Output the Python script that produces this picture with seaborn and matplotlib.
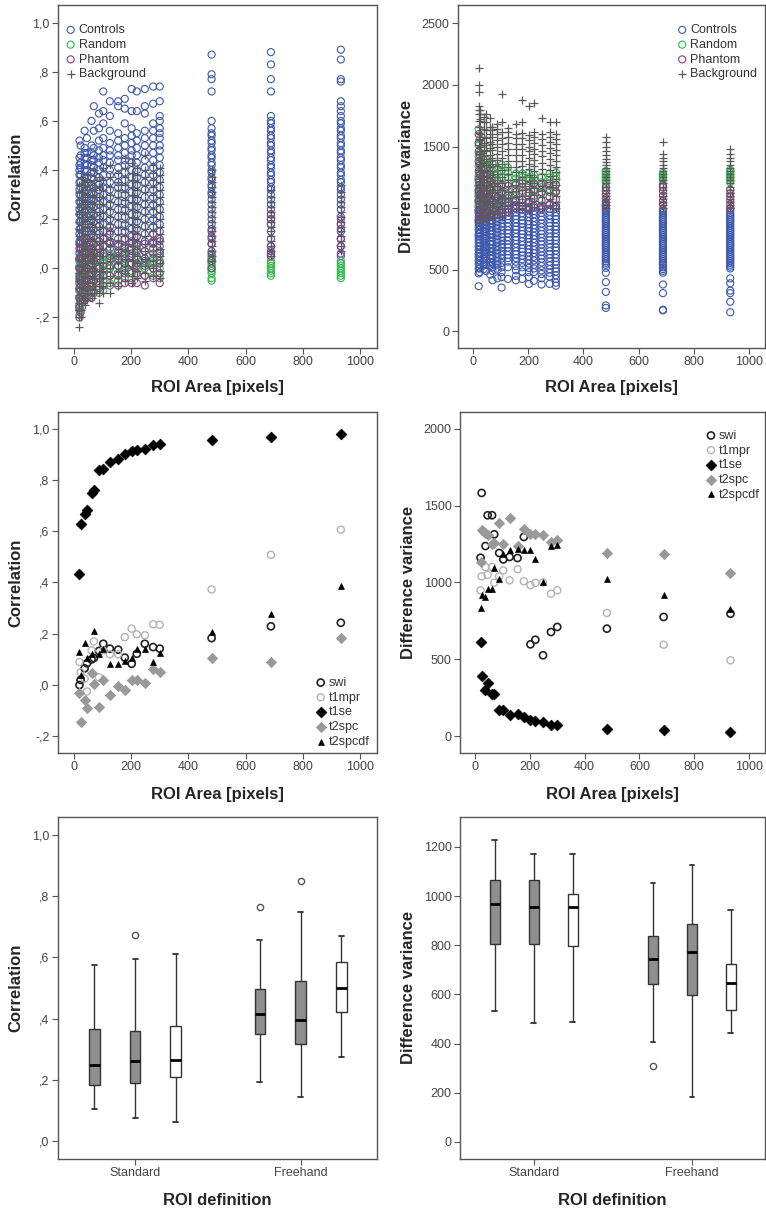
import numpy as np
import pandas as pd
import matplotlib
matplotlib.use('Agg')
import matplotlib.pyplot as plt
from matplotlib.ticker import FuncFormatter
import seaborn as sns

sns.set_theme(style='ticks')
plt.rcParams['font.family'] = ['Liberation Sans', 'DejaVu Sans']

# ROI areas used for every ROI (pixels)
roi_area = [20, 24, 38, 46, 62, 70, 88, 103, 126, 155, 178, 202, 220, 248, 277, 300, 481, 688, 932]

# ---- top left: correlation per ROI, one list per ROI area ----
ctrl_corr = [
    [-0.17, -0.15, -0.12, -0.09, -0.06, -0.03, 0.0, 0.03, 0.06, 0.08, 0.11, 0.14, 0.16, 0.19, 0.22, 0.24, 0.27, 0.3, 0.32, 0.35, 0.38, 0.4, 0.42, 0.45, 0.52],
    [-0.14, -0.11, -0.07, -0.04, -0.01, 0.02, 0.05, 0.08, 0.11, 0.13, 0.16, 0.19, 0.22, 0.25, 0.27, 0.3, 0.33, 0.35, 0.38, 0.41, 0.43, 0.46, 0.5],
    [-0.1, -0.07, -0.03, 0.0, 0.03, 0.06, 0.09, 0.12, 0.15, 0.18, 0.2, 0.23, 0.26, 0.29, 0.31, 0.34, 0.37, 0.4, 0.42, 0.45, 0.47, 0.49, 0.56],
    [-0.08, -0.04, -0.01, 0.03, 0.06, 0.09, 0.12, 0.15, 0.18, 0.21, 0.24, 0.26, 0.29, 0.32, 0.35, 0.37, 0.4, 0.42, 0.45, 0.47, 0.53],
    [-0.06, -0.02, 0.01, 0.05, 0.08, 0.11, 0.14, 0.17, 0.2, 0.23, 0.26, 0.28, 0.31, 0.34, 0.37, 0.39, 0.42, 0.44, 0.47, 0.5, 0.6],
    [-0.05, -0.01, 0.03, 0.07, 0.1, 0.13, 0.16, 0.19, 0.22, 0.25, 0.28, 0.3, 0.33, 0.36, 0.39, 0.41, 0.44, 0.46, 0.49, 0.56, 0.66],
    [-0.04, 0.0, 0.04, 0.08, 0.11, 0.14, 0.17, 0.2, 0.23, 0.26, 0.29, 0.32, 0.34, 0.37, 0.4, 0.43, 0.45, 0.48, 0.52, 0.57, 0.63],
    [-0.03, 0.01, 0.05, 0.09, 0.12, 0.15, 0.18, 0.21, 0.24, 0.27, 0.3, 0.33, 0.35, 0.38, 0.41, 0.44, 0.46, 0.49, 0.53, 0.59, 0.64, 0.72],
    [0.0, 0.04, 0.08, 0.11, 0.14, 0.17, 0.2, 0.23, 0.26, 0.29, 0.32, 0.35, 0.38, 0.4, 0.43, 0.46, 0.48, 0.51, 0.56, 0.62, 0.68],
    [0.01, 0.05, 0.09, 0.12, 0.15, 0.18, 0.21, 0.24, 0.27, 0.3, 0.33, 0.35, 0.38, 0.41, 0.44, 0.46, 0.49, 0.52, 0.55, 0.66, 0.68],
    [0.0, 0.04, 0.08, 0.12, 0.15, 0.18, 0.21, 0.24, 0.27, 0.3, 0.33, 0.36, 0.39, 0.42, 0.44, 0.47, 0.5, 0.53, 0.59, 0.65, 0.69],
    [0.02, 0.06, 0.1, 0.13, 0.16, 0.19, 0.22, 0.25, 0.28, 0.31, 0.34, 0.37, 0.4, 0.43, 0.46, 0.48, 0.51, 0.54, 0.57, 0.64, 0.73],
    [0.01, 0.05, 0.09, 0.13, 0.16, 0.19, 0.22, 0.25, 0.28, 0.31, 0.34, 0.37, 0.4, 0.43, 0.46, 0.49, 0.52, 0.55, 0.64, 0.72],
    [0.03, 0.07, 0.11, 0.14, 0.17, 0.2, 0.23, 0.26, 0.29, 0.32, 0.35, 0.38, 0.41, 0.44, 0.47, 0.5, 0.53, 0.56, 0.63, 0.66, 0.73],
    [0.02, 0.06, 0.1, 0.14, 0.17, 0.2, 0.23, 0.26, 0.29, 0.32, 0.35, 0.38, 0.41, 0.44, 0.47, 0.5, 0.53, 0.56, 0.59, 0.67, 0.74],
    [0.03, 0.07, 0.11, 0.15, 0.18, 0.21, 0.24, 0.27, 0.3, 0.33, 0.36, 0.39, 0.42, 0.45, 0.48, 0.5, 0.53, 0.55, 0.57, 0.6, 0.62, 0.68, 0.74],
    [0.04, 0.07, 0.1, 0.13, 0.16, 0.18, 0.2, 0.22, 0.24, 0.26, 0.28, 0.3, 0.31, 0.33, 0.34, 0.36, 0.37, 0.39, 0.4, 0.42, 0.43, 0.45, 0.46, 0.48, 0.49, 0.51, 0.52, 0.54, 0.55, 0.57, 0.6, 0.72, 0.77, 0.79, 0.87],
    [0.06, 0.09, 0.12, 0.15, 0.18, 0.2, 0.22, 0.24, 0.26, 0.28, 0.3, 0.32, 0.33, 0.35, 0.36, 0.38, 0.39, 0.41, 0.42, 0.44, 0.45, 0.47, 0.48, 0.5, 0.51, 0.53, 0.54, 0.56, 0.57, 0.59, 0.6, 0.62, 0.72, 0.77, 0.83, 0.88],
    [0.05, 0.09, 0.12, 0.15, 0.18, 0.21, 0.24, 0.26, 0.28, 0.3, 0.32, 0.33, 0.35, 0.36, 0.38, 0.39, 0.41, 0.42, 0.44, 0.45, 0.47, 0.48, 0.5, 0.51, 0.53, 0.54, 0.56, 0.57, 0.59, 0.6, 0.62, 0.64, 0.66, 0.68, 0.76, 0.77, 0.85, 0.89],
]
rand_corr = [
    [-0.19, -0.16, -0.12, -0.09, -0.05, -0.02, 0.01, 0.04], [-0.17, -0.13, -0.09, -0.05, -0.02, 0.03],
    [-0.13, -0.09, -0.05, -0.02, 0.02, 0.06], [-0.11, -0.07, -0.03, 0.0, 0.03, 0.07],
    [-0.1, -0.06, -0.02, 0.01, 0.04, 0.08], [-0.09, -0.05, -0.01, 0.02, 0.05],
    [-0.1, -0.06, -0.02, 0.01, 0.05, 0.09], [-0.09, -0.05, -0.01, 0.02, 0.05],
    [-0.06, -0.03, 0.0, 0.03, 0.06, 0.1], [-0.05, -0.02, 0.01, 0.03, 0.06],
    [-0.04, -0.01, 0.01, 0.03, 0.05, 0.07], [-0.04, -0.01, 0.02, 0.05],
    [-0.03, 0.0, 0.02, 0.04, 0.08], [-0.03, 0.0, 0.02, 0.04],
    [-0.03, 0.0, 0.02, 0.03, 0.06], [-0.04, -0.02, 0.0, 0.02, 0.05],
    [-0.05, -0.04, -0.02, -0.01, 0.0, 0.01, 0.02, 0.03, 0.05], [-0.03, -0.02, -0.01, 0.0, 0.01, 0.02, 0.03, 0.05],
    [-0.04, -0.03, -0.02, -0.01, 0.0, 0.01, 0.02, 0.03],
]
phan_corr = [
    [-0.2, -0.16, -0.12, -0.08, -0.04, 0.0, 0.04, 0.1], [-0.18, -0.13, -0.09, -0.05, 0.0, 0.04, 0.08],
    [-0.13, -0.09, -0.05, -0.01, 0.03, 0.07, 0.11], [-0.12, -0.08, -0.04, 0.0, 0.04, 0.08, 0.12],
    [-0.12, -0.07, -0.03, 0.02, 0.05, 0.08], [-0.1, -0.05, -0.01, 0.03, 0.06, 0.1],
    [-0.08, -0.04, 0.0, 0.05, 0.08, 0.11], [-0.07, -0.03, 0.01, 0.06, 0.09, 0.12],
    [-0.07, -0.03, 0.01, 0.05, 0.1, 0.15], [-0.07, -0.03, 0.01, 0.04, 0.07, 0.1],
    [-0.06, -0.02, 0.02, 0.06, 0.09, 0.12], [-0.06, -0.02, 0.02, 0.05, 0.08, 0.11],
    [-0.06, -0.02, 0.02, 0.07, 0.1, 0.13], [-0.07, -0.03, 0.01, 0.04, 0.07, 0.1],
    [-0.04, 0.0, 0.04, 0.08, 0.11, 0.14], [-0.06, -0.02, 0.02, 0.06, 0.09, 0.12],
    [0.0, 0.03, 0.06, 0.1, 0.12, 0.15], [0.05, 0.07, 0.09, 0.18, 0.2, 0.22], [0.06, 0.09, 0.12, 0.16, 0.18, 0.2],
]
bg_corr = [
    [-0.24, -0.2, -0.17, -0.14, -0.11, -0.08, -0.05, -0.02, 0.01, 0.04, 0.07, 0.1, 0.13, 0.16, 0.19, 0.22, 0.25, 0.28, 0.31, 0.34],
    [-0.2, -0.17, -0.14, -0.11, -0.08, -0.05, -0.02, 0.01, 0.04, 0.07, 0.1, 0.13, 0.16, 0.19, 0.22, 0.25, 0.28, 0.31, 0.34, 0.37],
    [-0.15, -0.12, -0.09, -0.06, -0.03, 0.0, 0.03, 0.06, 0.09, 0.12, 0.15, 0.18, 0.21, 0.24, 0.27, 0.3, 0.33, 0.36],
    [-0.13, -0.1, -0.07, -0.04, -0.01, 0.02, 0.05, 0.08, 0.11, 0.14, 0.17, 0.2, 0.23, 0.26, 0.29, 0.32, 0.35, 0.38],
    [-0.12, -0.09, -0.06, -0.03, 0.0, 0.03, 0.06, 0.09, 0.12, 0.15, 0.18, 0.21, 0.24, 0.27, 0.3, 0.34],
    [-0.1, -0.07, -0.04, -0.01, 0.02, 0.05, 0.08, 0.11, 0.14, 0.17, 0.2, 0.23, 0.26, 0.29, 0.32, 0.36, 0.4],
    [-0.14, -0.1, -0.07, -0.04, -0.01, 0.02, 0.05, 0.08, 0.11, 0.14, 0.17, 0.2, 0.23, 0.26, 0.29, 0.33, 0.37],
    [-0.1, -0.07, -0.04, -0.01, 0.02, 0.05, 0.08, 0.11, 0.14, 0.17, 0.2, 0.23, 0.26, 0.29, 0.32, 0.36, 0.41],
    [-0.1, -0.06, -0.03, 0.0, 0.03, 0.06, 0.09, 0.12, 0.15, 0.18, 0.21, 0.24, 0.27, 0.3, 0.33, 0.37, 0.42],
    [-0.07, -0.04, -0.01, 0.02, 0.05, 0.08, 0.11, 0.14, 0.17, 0.2, 0.23, 0.26, 0.29, 0.32, 0.35, 0.39],
    [-0.05, -0.02, 0.01, 0.04, 0.07, 0.1, 0.13, 0.16, 0.19, 0.22, 0.25, 0.28, 0.31, 0.34, 0.37, 0.41, 0.45],
    [-0.06, -0.03, 0.0, 0.03, 0.06, 0.09, 0.12, 0.15, 0.18, 0.21, 0.24, 0.27, 0.3, 0.33, 0.36, 0.39, 0.43],
    [-0.04, -0.01, 0.02, 0.05, 0.08, 0.11, 0.14, 0.17, 0.2, 0.23, 0.26, 0.29, 0.32, 0.35, 0.38, 0.41],
    [-0.05, -0.02, 0.01, 0.04, 0.07, 0.1, 0.13, 0.16, 0.19, 0.22, 0.25, 0.28, 0.31, 0.34, 0.37, 0.4, 0.46],
    [-0.03, 0.0, 0.03, 0.06, 0.09, 0.12, 0.15, 0.18, 0.21, 0.24, 0.27, 0.3, 0.33, 0.36, 0.39, 0.42],
    [-0.04, -0.01, 0.02, 0.05, 0.08, 0.11, 0.14, 0.17, 0.2, 0.23, 0.26, 0.29, 0.32, 0.35, 0.38, 0.41],
    [0.03, 0.05, 0.07, 0.09, 0.11, 0.13, 0.15, 0.17, 0.19, 0.21, 0.23, 0.25, 0.27, 0.29, 0.31, 0.33, 0.35, 0.37, 0.4],
    [0.05, 0.07, 0.09, 0.11, 0.13, 0.15, 0.17, 0.19, 0.21, 0.23, 0.25, 0.27, 0.29, 0.32],
    [0.07, 0.09, 0.11, 0.13, 0.15, 0.17, 0.19, 0.21, 0.23, 0.25, 0.27, 0.29, 0.31, 0.34],
]

# ---- top right: difference variance per ROI ----
ctrl_dvar = [
    [366, 470, 510, 545, 575, 605, 630, 660, 690, 720, 745, 770, 790, 820, 850, 880, 905, 930, 960, 985, 1010, 1040, 1065, 1095, 1120, 1150, 1180, 1240],
    [480, 510, 540, 575, 610, 640, 665, 695, 720, 745, 770, 800, 830, 860, 885, 910, 940, 965, 990, 1020, 1050, 1080, 1110, 1140, 1170],
    [505, 535, 560, 590, 625, 650, 680, 705, 735, 760, 790, 815, 845, 870, 895, 925, 955, 985, 1010, 1035, 1060, 1090, 1125],
    [490, 540, 575, 605, 640, 665, 690, 720, 750, 775, 805, 830, 860, 885, 915, 940, 970, 1000, 1025, 1055, 1085, 1110, 1140],
    [460, 530, 560, 590, 615, 645, 675, 705, 730, 760, 790, 815, 845, 875, 900, 930, 960, 985, 1015, 1045, 1075],
    [415, 490, 520, 555, 590, 615, 645, 675, 705, 730, 760, 790, 815, 845, 875, 900, 930, 960, 985, 1015, 1045],
    [430, 500, 540, 570, 600, 630, 660, 690, 720, 745, 775, 805, 835, 860, 890, 920, 945, 975, 1000, 1030, 1060],
    [355, 440, 480, 520, 555, 590, 620, 650, 680, 705, 735, 765, 790, 820, 850, 875, 905, 935, 960, 990, 1020, 1050, 1085],
    [425, 520, 565, 595, 620, 650, 680, 705, 735, 765, 795, 820, 850, 880, 910, 935, 965, 995, 1020, 1050, 1080],
    [415, 450, 495, 530, 565, 595, 625, 650, 680, 710, 740, 765, 795, 825, 850, 880, 910, 935, 965, 995, 1025, 1055],
    [425, 485, 520, 555, 585, 615, 645, 670, 700, 730, 760, 790, 815, 845, 875, 900, 930, 960, 990, 1015, 1045, 1070],
    [385, 440, 480, 515, 550, 580, 610, 640, 665, 695, 725, 755, 780, 810, 840, 870, 895, 925, 955, 985, 1010, 1040],
    [410, 480, 510, 540, 575, 605, 635, 660, 690, 720, 750, 775, 805, 835, 860, 890, 920, 950, 975, 1005],
    [380, 430, 465, 495, 530, 560, 590, 615, 645, 675, 705, 730, 760, 790, 815, 845, 875, 905, 930, 960, 990, 1020],
    [385, 445, 475, 505, 535, 565, 595, 625, 650, 680, 710, 740, 765, 795, 825, 855, 880, 910, 940, 970, 995, 1025],
    [370, 395, 425, 455, 485, 510, 540, 565, 595, 625, 655, 680, 710, 740, 765, 795, 825, 850, 880, 910, 935, 965, 995, 1020],
    [190, 210, 320, 400, 475, 515, 540, 555, 570, 585, 600, 615, 630, 645, 660, 675, 690, 705, 720, 735, 750, 765, 780, 795, 810, 825, 840, 855, 870, 885, 900, 915, 930, 945, 960, 975, 990, 1005, 1020, 1035],
    [170, 175, 310, 380, 475, 490, 505, 520, 540, 555, 570, 585, 600, 615, 630, 645, 660, 675, 690, 705, 720, 735, 750, 765, 780, 795, 810, 825, 840, 855, 870, 885, 900, 915, 930, 945, 960, 975, 990],
    [155, 240, 310, 330, 390, 430, 510, 525, 540, 555, 570, 585, 600, 615, 630, 645, 660, 675, 690, 705, 720, 735, 750, 765, 780, 795, 810, 825, 840, 855, 870, 885, 900, 915, 930, 945, 960, 980, 995],
]
rand_dvar = [
    [1020, 1100, 1180, 1260, 1340, 1420, 1510, 1640], [1050, 1130, 1210, 1290, 1370, 1450, 1560],
    [1000, 1080, 1160, 1230, 1310, 1390, 1470], [1040, 1120, 1200, 1280, 1350, 1400],
    [990, 1070, 1150, 1210, 1270, 1330], [1020, 1100, 1170, 1250, 1310, 1360],
    [1000, 1080, 1150, 1220, 1280, 1320], [1040, 1110, 1180, 1250, 1300, 1350],
    [1080, 1140, 1200, 1250, 1290, 1330], [1100, 1150, 1200, 1240, 1280],
    [1120, 1170, 1220, 1250, 1280], [1130, 1180, 1220, 1250, 1280],
    [1100, 1150, 1200, 1240, 1270], [1120, 1170, 1210, 1250],
    [1130, 1180, 1220, 1250, 1280], [1140, 1190, 1230, 1260, 1290],
    [1200, 1215, 1230, 1245, 1260, 1275, 1290, 1300], [1230, 1240, 1250, 1260, 1270, 1285],
    [1210, 1225, 1240, 1255, 1270, 1285, 1300, 1310],
]
phan_dvar = [
    [900, 980, 1060, 1140, 1220, 1300, 1380, 1460, 1530, 1600], [950, 1030, 1110, 1190, 1270, 1350, 1430],
    [920, 1000, 1080, 1160, 1230, 1280], [960, 1040, 1120, 1200, 1260, 1320],
    [940, 1010, 1080, 1160, 1220, 1270], [980, 1050, 1120, 1200],
    [950, 1020, 1090, 1170], [990, 1060, 1130, 1190],
    [970, 1040, 1110, 1180], [1000, 1070, 1130, 1190],
    [1010, 1070, 1140, 1200], [990, 1050, 1120, 1180],
    [1020, 1080, 1140, 1200], [1000, 1060, 1130, 1190],
    [1030, 1090, 1150, 1200], [1010, 1070, 1130, 1190],
    [1020, 1050, 1080, 1110, 1140, 1170], [1030, 1060, 1100, 1140, 1170, 1190],
    [1000, 1030, 1060, 1090, 1120, 1150],
]
bg_dvar = [
    [880, 940, 1000, 1060, 1110, 1160, 1210, 1260, 1310, 1360, 1410, 1460, 1510, 1560, 1610, 1660, 1710, 1760, 1800, 1830, 1940, 2000, 2134],
    [900, 960, 1020, 1080, 1130, 1190, 1240, 1290, 1340, 1390, 1440, 1500, 1550, 1600, 1660, 1720, 1760, 1800],
    [930, 990, 1050, 1100, 1160, 1210, 1260, 1310, 1370, 1420, 1470, 1530, 1580, 1640, 1700, 1740],
    [910, 970, 1030, 1090, 1140, 1190, 1250, 1300, 1350, 1400, 1460, 1510, 1570, 1630, 1700, 1760],
    [950, 1010, 1060, 1120, 1170, 1220, 1270, 1330, 1380, 1430, 1490, 1540, 1600, 1660, 1730],
    [920, 980, 1040, 1090, 1150, 1200, 1250, 1300, 1360, 1410, 1470, 1520, 1580, 1630, 1660],
    [960, 1020, 1070, 1130, 1180, 1230, 1280, 1340, 1390, 1440, 1500, 1550, 1600, 1640, 1680],
    [930, 990, 1040, 1100, 1150, 1200, 1250, 1310, 1360, 1410, 1460, 1520, 1570, 1620, 1700, 1923],
    [970, 1020, 1080, 1130, 1180, 1230, 1280, 1330, 1380, 1430, 1480, 1530, 1580, 1620, 1650],
    [990, 1040, 1090, 1140, 1190, 1240, 1290, 1330, 1380, 1430, 1480, 1520, 1570, 1600, 1680],
    [1000, 1050, 1100, 1150, 1200, 1250, 1290, 1340, 1380, 1430, 1480, 1520, 1570, 1610, 1700, 1877],
    [980, 1030, 1080, 1130, 1180, 1220, 1270, 1320, 1360, 1410, 1460, 1500, 1550, 1590, 1830],
    [1010, 1060, 1110, 1160, 1200, 1250, 1300, 1340, 1390, 1440, 1480, 1530, 1580, 1620, 1850],
    [990, 1040, 1090, 1140, 1180, 1230, 1280, 1320, 1370, 1420, 1460, 1510, 1560, 1600, 1730],
    [1020, 1070, 1120, 1170, 1210, 1260, 1310, 1350, 1400, 1450, 1490, 1540, 1580, 1620, 1700],
    [1000, 1050, 1100, 1150, 1190, 1240, 1290, 1330, 1380, 1430, 1470, 1520, 1560, 1600, 1700],
    [1000, 1025, 1050, 1075, 1100, 1125, 1150, 1175, 1200, 1225, 1250, 1275, 1300, 1325, 1350, 1375, 1400, 1430, 1460, 1500, 1540, 1580],
    [1000, 1025, 1050, 1075, 1100, 1125, 1150, 1175, 1200, 1225, 1250, 1275, 1300, 1325, 1350, 1380, 1410, 1440, 1540],
    [1000, 1025, 1050, 1075, 1100, 1125, 1150, 1175, 1200, 1225, 1250, 1275, 1300, 1325, 1350, 1380, 1410, 1440, 1480],
]

# ---- middle row: one value per sequence and ROI area ----
corr_seq = {
    'swi': [0.00, 0.02, 0.065, 0.085, 0.10, 0.105, 0.133, 0.161, 0.142, 0.138, 0.107, 0.083, 0.122, 0.161, 0.148, 0.142, 0.183, 0.229, 0.243],
    't1mpr': [0.09, 0.05, 0.025, -0.025, 0.135, 0.17, 0.03, 0.135, 0.12, 0.12, 0.187, 0.22, 0.198, 0.194, 0.237, 0.235, 0.373, 0.508, 0.606],
    't1se': [0.432, 0.627, 0.666, 0.684, 0.749, 0.762, 0.840, 0.844, 0.870, 0.883, 0.900, 0.912, 0.918, 0.922, 0.938, 0.941, 0.957, 0.967, 0.978],
    't2spc': [-0.03, -0.145, -0.057, -0.09, 0.047, 0.005, -0.086, 0.021, -0.04, -0.005, -0.02, 0.021, 0.021, 0.008, 0.064, 0.051, 0.107, 0.09, 0.183],
    't2spcdf': [0.129, 0.038, 0.165, 0.105, 0.12, 0.21, 0.12, 0.142, 0.083, 0.083, 0.092, 0.105, 0.142, 0.142, 0.09, 0.125, 0.207, 0.278, 0.386],
}
dvar_seq = {
    'swi': [1161, 1582, 1237, 1437, 1437, 1313, 1192, 1150, 1166, 1159, 1296, 598, 628, 527, 678, 711, 700, 776, 797],
    't1mpr': [949, 1040, 1100, 1050, 1101, 999, 1040, 1079, 1014, 1086, 1008, 982, 997, 1000, 927, 949, 802, 596, 494],
    't1se': [613, 392, 303, 347, 277, 277, 173, 169, 137, 147, 126, 108, 100, 93, 76, 72, 50, 39, 28],
    't2spc': [1133, 1339, 1322, 1307, 1252, 1259, 1387, 1248, 1421, 1235, 1345, 1313, 1313, 1307, 1263, 1278, 1192, 1187, 1062],
    't2spcdf': [836, 917, 906, 955, 955, 1096, 1021, 1183, 1213, 1220, 1213, 1213, 1150, 1003, 1237, 1242, 1021, 921, 830],
}

# ---- bottom row: box plot summaries (Standard, Freehand) x 3 boxes ----
roi_definition = ['Standard', 'Freehand']
corr_whislo = [[0.105, 0.076, 0.063], [0.192, 0.146, 0.274]]
corr_q1 = [[0.184, 0.190, 0.209], [0.349, 0.318, 0.420]]
corr_med = [[0.248, 0.262, 0.266], [0.416, 0.394, 0.500]]
corr_q3 = [[0.366, 0.358, 0.377], [0.497, 0.523, 0.585]]
corr_whishi = [[0.574, 0.593, 0.611], [0.656, 0.748, 0.669]]
corr_fliers = [[[], [0.671], []], [[0.765], [0.850], []]]

dvar_whislo = [[533, 483, 488], [405, 181, 444]]
dvar_q1 = [[806, 806, 798], [643, 598, 535]]
dvar_med = [[969, 954, 954], [746, 771, 647]]
dvar_q3 = [[1064, 1064, 1008], [839, 888, 725]]
dvar_whishi = [[1227, 1170, 1173], [1053, 1127, 943]]
dvar_fliers = [[[], [], []], [[311], [], []]]

# styles
cloud_colors = {'Controls': '#3e58ac', 'Random': '#2eb848', 'Phantom': '#883d88', 'Background': '#5a5a5a'}
seq_style = {
    'swi': dict(marker='o', color='none', edge='#222222', s=26, lw=1.2),
    't1mpr': dict(marker='o', color='none', edge='#b4b4b4', s=26, lw=1.0),
    't1se': dict(marker='D', color='black', edge='black', s=30, lw=0.5),
    't2spc': dict(marker='D', color='#999999', edge='#999999', s=28, lw=0.5),
    't2spcdf': dict(marker='^', color='black', edge='black', s=18, lw=0.5),
}
box_fill = ['#8f8f8f', '#8f8f8f', 'white']
box_offset = [-0.246, 0.0, 0.246]
tick_col = '#444444'


def spss_fmt(v, pos):
    s = f'{v:.1f}'.replace('.', ',')
    if s.startswith('0,'):
        s = s[1:]
    elif s.startswith('-0,'):
        s = '-' + s[2:]
    return s


def to_long(cols, name):
    rows = [(x, v) for x, col in zip(roi_area, cols) for v in col]
    d = pd.DataFrame(rows, columns=['area', 'value'])
    d['group'] = name
    return d


def style_axes(ax, ylabel, xlabel, ylab_x, xlab_y):
    for sp in ax.spines.values():
        sp.set_visible(True)
        sp.set_color('#555555')
        sp.set_linewidth(1.0)
    ax.tick_params(direction='out', length=4, width=0.8, color='#555555',
                   labelcolor=tick_col, labelsize=9, pad=2)
    ax.set_ylabel(ylabel, fontsize=12, fontweight='bold')
    ax.set_xlabel(xlabel, fontsize=12, fontweight='bold')
    ax.yaxis.set_label_coords(ylab_x, 0.5)
    ax.xaxis.set_label_coords(0.5, xlab_y)
    ax.grid(False)


def cloud_panel(ax, groups, loc, anchor):
    handles = {}
    for name in ['Controls', 'Random', 'Phantom', 'Background']:
        d = to_long(groups[name], name)
        c = cloud_colors[name]
        if name == 'Background':
            sns.scatterplot(data=d, x='area', y='value', ax=ax, marker='+', color=c,
                            s=34, linewidth=0.9, label=name)
        else:
            sns.scatterplot(data=d, x='area', y='value', ax=ax, marker='o', color=c,
                            facecolor='none', edgecolor=c, s=26, linewidth=0.8, label=name)
        handles[name] = ax.collections[-1]
    order = ['Controls', 'Random', 'Phantom', 'Background']
    ax.legend([handles[n] for n in order], order, loc=loc, bbox_to_anchor=anchor,
              frameon=False, fontsize=9, handlelength=0.6, handletextpad=0.35,
              labelspacing=0.22, borderpad=0, borderaxespad=0, labelcolor='#333333')
    ax.set_xlim(-55, 1058)
    ax.set_xticks(np.arange(0, 1001, 200))


def seq_panel(ax, values, loc, anchor):
    for name, vals in values.items():
        st = seq_style[name]
        sns.scatterplot(x=roi_area, y=vals, ax=ax, marker=st['marker'], color=st['color'],
                        facecolor=st['color'], edgecolor=st['edge'], s=st['s'],
                        linewidth=st['lw'], label=name)
    ax.legend(loc=loc, bbox_to_anchor=anchor, frameon=False, fontsize=9,
              handlelength=0.6, handletextpad=0.35, labelspacing=0.22,
              borderpad=0, borderaxespad=0, labelcolor='#333333')
    ax.set_xlim(-55, 1058)
    ax.set_xticks(np.arange(0, 1001, 200))


def box_panel(ax, whislo, q1, med, q3, whishi, fliers):
    stats, pos, fills = [], [], []
    for g in range(len(roi_definition)):
        for k in range(3):
            stats.append(dict(whislo=whislo[g][k], q1=q1[g][k], med=med[g][k],
                              q3=q3[g][k], whishi=whishi[g][k], fliers=fliers[g][k]))
            pos.append(g + box_offset[k])
            fills.append(box_fill[k])
    art = ax.bxp(stats, positions=pos, widths=0.064, capwidths=0.03, patch_artist=True,
                 manage_ticks=False,
                 boxprops=dict(edgecolor='#333333', linewidth=1.0),
                 medianprops=dict(color='black', linewidth=2.0),
                 whiskerprops=dict(color='#333333', linewidth=1.0),
                 capprops=dict(color='#333333', linewidth=1.3),
                 flierprops=dict(marker='o', markerfacecolor='none', markeredgecolor='#555555',
                                 markersize=4.5, markeredgewidth=1.0))
    for patch, fc in zip(art['boxes'], fills):
        patch.set_facecolor(fc)
    ax.set_xlim(-0.466, 1.462)
    ax.set_xticks(range(len(roi_definition)))
    ax.set_xticklabels(roi_definition)


fig = plt.figure(figsize=(7.66, 12.09), dpi=100)

ax_tl = fig.add_axes([0.0757, 0.7122, 0.4164, 0.2837])
ax_tr = fig.add_axes([0.5979, 0.7122, 0.4008, 0.2837])
ax_ml = fig.add_axes([0.0757, 0.3772, 0.4164, 0.2820])
ax_mr = fig.add_axes([0.6005, 0.3772, 0.3982, 0.2820])
ax_bl = fig.add_axes([0.0757, 0.0414, 0.4164, 0.2829])
ax_br = fig.add_axes([0.6005, 0.0414, 0.3982, 0.2829])

# top left
cloud_panel(ax_tl, {'Controls': ctrl_corr, 'Random': rand_corr, 'Phantom': phan_corr,
                    'Background': bg_corr}, 'upper left', (0.028, 0.944))
ax_tl.set_ylim(-0.324, 1.072)
ax_tl.set_yticks(np.arange(-0.2, 1.01, 0.2))
ax_tl.yaxis.set_major_formatter(FuncFormatter(spss_fmt))
style_axes(ax_tl, 'Correlation', 'ROI Area [pixels]', -0.107, -0.093)

# top right
cloud_panel(ax_tr, {'Controls': ctrl_dvar, 'Random': rand_dvar, 'Phantom': phan_dvar,
                    'Background': bg_dvar}, 'upper right', (0.975, 0.944))
ax_tr.set_ylim(-135, 2649)
ax_tr.set_yticks(np.arange(0, 2501, 500))
style_axes(ax_tr, 'Difference variance', 'ROI Area [pixels]', -0.144, -0.093)

# middle left
seq_panel(ax_ml, corr_seq, 'lower right', (0.977, 0.015))
ax_ml.set_ylim(-0.265, 1.065)
ax_ml.set_yticks(np.arange(-0.2, 1.01, 0.2))
ax_ml.yaxis.set_major_formatter(FuncFormatter(spss_fmt))
style_axes(ax_ml, 'Correlation', 'ROI Area [pixels]', -0.107, -0.100)

# middle right
seq_panel(ax_mr, dvar_seq, 'upper right', (0.983, 0.948))
ax_mr.set_ylim(-108, 2108)
ax_mr.set_yticks(np.arange(0, 2001, 500))
style_axes(ax_mr, 'Difference variance', 'ROI Area [pixels]', -0.144, -0.100)

# bottom left
box_panel(ax_bl, corr_whislo, corr_q1, corr_med, corr_q3, corr_whishi, corr_fliers)
ax_bl.set_ylim(-0.0575, 1.0575)
ax_bl.set_yticks(np.arange(0, 1.01, 0.2))
ax_bl.yaxis.set_major_formatter(FuncFormatter(spss_fmt))
style_axes(ax_bl, 'Correlation', 'ROI definition', -0.107, -0.100)

# bottom right
box_panel(ax_br, dvar_whislo, dvar_q1, dvar_med, dvar_q3, dvar_whishi, dvar_fliers)
ax_br.set_ylim(-69, 1322)
ax_br.set_yticks(np.arange(0, 1201, 200))
style_axes(ax_br, 'Difference variance', 'ROI definition', -0.144, -0.100)

fig.savefig('out.png', dpi=100)
